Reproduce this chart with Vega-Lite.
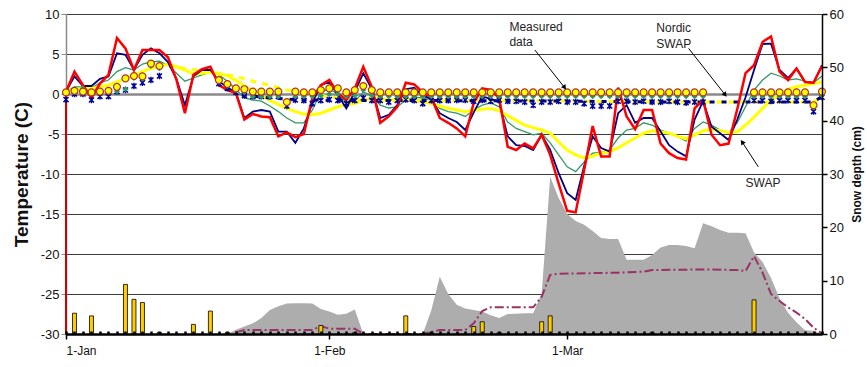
{
"$schema": "https://vega.github.io/schema/vega-lite/v6.json",
"width": 756, "height": 320,
"autosize": {"type": "none"},
"padding": {"left": 66, "top": 14, "right": 45, "bottom": 33},
"background": "white",
"config": {"font": "Liberation Sans", "view": {"stroke": null}, "mark": {"invalid": "filter"}, "scale": {"continuousPadding": 0}},
"datasets": {
"daily": [
{"day":0,"r":0.3,"b":0.3,"g":0.3,"y":0.3,"c":0.2,"m":0.2,"a":-0.7},
{"day":1,"r":2.8,"b":2.2,"g":0.9,"y":0.5,"c":0.4,"m":0.6,"a":0.0,"p":3.9},
{"day":2,"r":1.1,"b":1.0,"g":0.9,"y":0.7,"c":0.3,"m":0.7,"a":0.0},
{"day":3,"r":-0.5,"b":1.0,"g":0.75,"y":0.7,"c":0.2,"m":0.2,"a":-0.75,"p":3.4},
{"day":4,"r":1.3,"b":1.9,"g":1.4,"y":0.9,"c":0.3,"m":0.2,"a":-0.3},
{"day":5,"r":2.4,"b":2.2,"g":1.75,"y":1.1,"c":0.4,"m":0.2,"a":-0.3},
{"day":6,"r":7.0,"b":5.1,"g":2.8,"y":1.5,"c":0.9,"m":0.3,"a":0.3},
{"day":7,"r":5.7,"b":4.9,"g":3.3,"y":1.9,"c":1.95,"m":0.6,"a":0.5,"p":9.3},
{"day":8,"r":3.0,"b":3.0,"g":3.0,"y":2.4,"c":2.25,"m":2.0,"a":1.0,"p":6.5},
{"day":9,"r":5.5,"b":4.9,"g":3.75,"y":2.8,"c":2.2,"m":1.9,"a":1.4,"p":5.9},
{"day":10,"r":5.5,"b":5.7,"g":4.0,"y":3.2,"c":3.8,"m":3.5,"a":1.75},
{"day":11,"r":5.5,"b":5.1,"g":4.1,"y":3.5,"c":3.5,"m":3.2,"a":2.25,"p":0.3},
{"day":12,"r":4.6,"b":4.0,"g":3.6,"y":3.7,"ny":3.6},
{"day":13,"r":1.8,"b":1.9,"g":2.6,"y":3.4},
{"day":14,"r":-2.4,"b":-1.4,"g":1.6,"y":3.0,"ny":3.2},
{"day":15,"r":2.4,"b":2.2,"g":2.0,"y":2.5,"p":1.8},
{"day":16,"r":3.1,"b":3.0,"g":2.4,"y":2.6,"ny":2.9},
{"day":17,"r":3.4,"b":3.0,"g":2.7,"y":2.7,"p":4.3},
{"day":18,"r":1.1,"b":1.6,"g":2.4,"y":2.5,"c":1.75,"m":1.5,"a":1.3,"ny":2.6},
{"day":19,"r":0.5,"b":0.8,"g":1.6,"y":2.3,"c":1.25,"m":1.0,"a":0.7,"s":0,"p":0.3},
{"day":20,"r":0.1,"b":0.2,"g":0.6,"y":1.7,"c":0.7,"m":0.5,"a":0.2,"s":0.8,"ss":0.3,"ny":2.2,"nb":0.0},
{"day":21,"r":-3.2,"b":-3.0,"g":-0.5,"y":1.0,"c":0.6,"m":0.2,"a":-0.2,"s":1.4,"ss":0.75},
{"day":22,"r":-2.5,"b":-2.2,"g":-0.75,"y":0.4,"c":0.3,"m":-0.3,"a":-0.3,"s":2.0,"ss":0.75,"ny":1.6},
{"day":23,"r":-2.8,"b":-2.0,"g":-0.9,"y":-0.2,"c":0.3,"m":-0.3,"a":-0.3,"s":3.0,"ss":0.75},
{"day":24,"r":-2.9,"b":-2.2,"g":-1.5,"y":-0.8,"c":0.3,"m":-0.3,"a":-0.3,"s":4.5,"ss":0.75,"ny":1.1,"nb":-0.5},
{"day":25,"r":-5.3,"b":-4.7,"g":-2.2,"y":-1.3,"c":0.3,"m":-0.3,"a":-0.3,"s":5.2,"ss":0.75},
{"day":26,"r":-4.8,"b":-4.7,"g":-3.0,"y":-1.8,"c":-1.0,"m":-1.2,"a":-1.5,"s":5.7,"ss":0.75,"ny":0.5},
{"day":27,"r":-5.4,"b":-6.1,"g":-3.6,"y":-2.2,"c":0.3,"m":-0.3,"a":-0.75,"s":5.75,"ss":0.75},
{"day":28,"r":-5.0,"b":-4.3,"g":-3.6,"y":-2.5,"c":0.2,"m":-0.3,"a":-0.8,"s":5.75,"ss":0.75,"ny":0.1,"nb":-0.75},
{"day":29,"r":-0.5,"b":-1.1,"g":-2.0,"y":-2.6,"c":0.2,"m":-0.3,"a":-1.2,"s":5.7,"ss":0.75},
{"day":30,"r":1.1,"b":1.1,"g":0.25,"y":-2.4,"c":0.5,"m":-0.2,"a":-0.8,"s":4.7,"ss":1.5,"p":1.6,"ny":-0.2},
{"day":31,"r":1.75,"b":1.5,"g":0.6,"y":-2.0,"c":0.7,"m":0.0,"a":-0.7,"s":4.2,"ss":1.0},
{"day":32,"r":0.1,"b":-0.1,"g":0.0,"y":-1.6,"c":0.7,"m":0.0,"a":-0.8,"s":3.6,"ss":1.0,"ny":-0.5},
{"day":33,"r":-0.75,"b":-1.8,"g":-1.1,"y":-1.3,"c":0.2,"m":-0.3,"a":-1.2,"s":3.8,"ss":1.0},
{"day":34,"r":0.7,"b":0.3,"g":-0.9,"y":-1.2,"c":0.5,"m":-0.2,"a":-0.8,"s":4.6,"ss":1.0,"p":0.3,"ny":-0.7,"nb":-0.8},
{"day":35,"r":3.4,"b":2.6,"g":0.25,"y":-0.8,"c":1.0,"m":0.5,"a":-0.5,"s":0,"ss":0},
{"day":36,"r":0.9,"b":0.6,"g":-0.2,"y":-0.5,"c":0.5,"m":-0.2,"a":-0.8,"s":0,"ss":0},
{"day":37,"r":-3.6,"b":-3.0,"g":-1.4,"y":-0.6,"c":0.2,"m":-0.3,"a":-0.8,"s":0,"ss":0},
{"day":38,"r":-2.8,"b":-2.6,"g":-1.75,"y":-0.75,"c":0.2,"m":-0.3,"a":-1.0,"s":0,"ss":0},
{"day":39,"r":-1.6,"b":-1.4,"g":-1.6,"y":-0.75,"c":0.2,"m":-0.3,"a":-0.8,"s":0,"ss":0},
{"day":40,"r":1.4,"b":0.6,"g":-0.75,"y":-0.75,"c":0.2,"m":-0.3,"a":-0.7,"s":0,"ss":0,"p":3.4,"ny":-0.8,"nb":-0.8},
{"day":41,"r":1.2,"b":0.8,"g":-0.4,"y":-0.8,"c":0.2,"m":-0.3,"a":-0.8,"s":0,"ss":0},
{"day":42,"r":0.2,"b":-0.2,"g":-0.5,"y":-1.0,"c":0.2,"m":-0.3,"a":-1.2,"s":0,"ss":0},
{"day":43,"r":-0.4,"b":-0.6,"g":-0.75,"y":-1.2,"c":0.2,"m":-0.3,"a":-0.8,"s":4.4,"ss":0.4,"p":0.3},
{"day":44,"r":-3.0,"b":-2.4,"g":-1.8,"y":-1.5,"c":0.2,"m":-0.3,"a":-0.8,"s":10.75,"ss":0.75},
{"day":45,"r":-3.6,"b":-3.0,"g":-2.2,"y":-1.8,"c":0.2,"m":-0.3,"a":-0.8,"s":7.5,"ss":0.75},
{"day":46,"r":-4.3,"b":-3.5,"g":-2.4,"y":-2.0,"c":0.2,"m":-0.3,"a":-0.75,"s":5.5,"ss":0.75},
{"day":47,"r":-5.3,"b":-4.5,"g":-2.8,"y":-2.2,"c":0.2,"m":-0.3,"a":-0.75,"s":4.8,"ss":0.75},
{"day":48,"r":-1.1,"b":-2.3,"g":-2.0,"y":-2.0,"c":0.2,"m":-0.3,"a":-0.9,"s":4.5,"ss":2.0,"p":1.4},
{"day":49,"r":0.7,"b":-0.3,"g":-1.4,"y":-1.9,"c":0.2,"m":-0.3,"a":-0.75,"s":4.2,"ss":4.3,"p":2.3},
{"day":50,"r":0.5,"b":-0.6,"g":-1.1,"y":-1.8,"c":0.2,"m":-0.3,"a":-0.9,"s":3.5,"ss":5.0,"ny":-0.8},
{"day":51,"r":-0.5,"b":-1.0,"g":-1.6,"y":-2.1,"c":0.2,"m":-0.3,"a":-0.75,"s":3.0,"ss":5.0,"p":0.3},
{"day":52,"r":-6.6,"b":-5.3,"g":-3.5,"y":-2.7,"c":0.2,"m":-0.3,"a":-0.9,"s":3.75,"ss":5.0},
{"day":53,"r":-7.0,"b":-6.4,"g":-4.3,"y":-3.3,"c":0.2,"m":-0.3,"a":-0.9,"s":3.8,"ss":5.0},
{"day":54,"r":-6.2,"b":-6.5,"g":-4.7,"y":-3.9,"c":0.2,"m":-0.3,"a":-1.0,"s":3.9,"ss":5.0},
{"day":55,"r":-6.8,"b":-7.0,"g":-5.1,"y":-4.2,"c":0.2,"m":-0.3,"a":-1.4,"s":3.9,"ss":5.0},
{"day":56,"r":-5.1,"b":-5.1,"g":-4.9,"y":-4.5,"c":0.2,"m":-0.3,"a":-1.0,"s":7.6,"ss":7.0,"p":2.3},
{"day":57,"r":-7.6,"b":-7.0,"g":-6.1,"y":-4.9,"c":0.2,"m":-0.3,"a":-1.0,"s":29.5,"ss":11.1,"p":3.4},
{"day":58,"r":-11.2,"b":-9.9,"g":-7.6,"y":-6.0,"c":0.2,"m":-0.3,"a":-0.9,"s":25.5,"ss":11.3},
{"day":59,"r":-14.6,"b":-12.4,"g":-9.1,"y":-7.0,"c":0.2,"m":-0.3,"a":-1.0,"s":22.5},
{"day":60,"r":-14.8,"b":-13.25,"g":-9.7,"y":-7.6,"c":0.2,"m":-0.3,"a":-1.0,"s":21.2,"ny":-0.9,"nb":-0.9},
{"day":61,"r":-9.5,"b":-9.0,"g":-8.5,"y":-8.0,"c":0.2,"m":-0.3,"a":-1.2,"s":20.5},
{"day":62,"r":-4.0,"b":-5.3,"g":-7.4,"y":-7.75,"c":0.2,"m":-0.3,"a":-1.5,"s":19.3},
{"day":63,"r":-7.8,"b":-6.75,"g":-7.3,"y":-7.4,"c":0.2,"m":-0.3,"a":-1.5,"s":18.0},
{"day":64,"r":-7.8,"b":-7.2,"g":-7.0,"y":-7.2,"c":0.2,"m":-0.3,"a":-1.5,"s":17.8},
{"day":65,"r":0.8,"b":-2.4,"g":-5.5,"y":-6.75,"c":0.2,"m":-0.3,"a":-0.9,"s":17.8,"ss":11.5},
{"day":66,"r":-2.8,"b":-1.4,"g":-4.5,"y":-6.1,"c":0.2,"m":-0.3,"a":-0.9,"s":13.9},
{"day":67,"r":-4.4,"b":-3.6,"g":-4.3,"y":-5.5,"c":0.2,"m":-0.3,"a":-1.0,"s":13.9},
{"day":68,"r":-2.0,"b":-3.0,"g":-3.6,"y":-4.9,"c":0.2,"m":-0.3,"a":-0.9,"s":13.9,"ss":11.7},
{"day":69,"r":-2.0,"b":-3.0,"g":-3.9,"y":-4.6,"c":0.2,"m":-0.3,"a":-1.0,"s":14.8,"ss":12.0,"p":0.3},
{"day":70,"r":-6.2,"b":-4.7,"g":-4.5,"y":-4.75,"c":0.2,"m":-0.3,"a":-1.0,"s":16.2,"ny":-1.0,"nb":-1.0},
{"day":71,"r":-7.4,"b":-6.4,"g":-4.9,"y":-4.9,"c":0.2,"m":-0.3,"a":-0.9,"s":16.7},
{"day":72,"r":-8.0,"b":-7.2,"g":-5.3,"y":-5.3,"c":0.2,"m":-0.3,"a":-1.0,"s":16.7},
{"day":73,"r":-8.2,"b":-7.8,"g":-5.9,"y":-5.6,"c":0.2,"m":-0.3,"a":-1.1,"s":16.5},
{"day":74,"r":-1.8,"b":-3.2,"g":-4.3,"y":-5.1,"c":0.2,"m":-0.3,"a":-1.0,"s":16.1},
{"day":75,"r":-0.75,"b":-0.9,"g":-3.5,"y":-4.6,"c":0.2,"m":-0.3,"a":-1.0,"s":20.75,"ss":12.1},
{"day":76,"r":-5.1,"b":-4.1,"g":-3.9,"y":-4.4,"s":20.2},
{"day":77,"r":-6.4,"b":-4.9,"g":-4.5,"y":-4.6,"s":19.5},
{"day":78,"r":-6.2,"b":-5.75,"g":-4.9,"y":-4.8,"s":19.0},
{"day":79,"r":-2.0,"b":-3.25,"g":-3.6,"y":-4.75,"s":19.0,"ss":12.0},
{"day":80,"r":2.6,"b":-0.4,"g":-1.6,"y":-3.9,"s":18.9,"ss":11.8,"ny":-1.0,"nb":-1.0},
{"day":81,"r":3.6,"b":3.0,"g":0.5,"y":-2.9,"c":0.2,"m":-0.3,"a":-0.8,"s":15.3,"ss":14.6,"p":6.4},
{"day":82,"r":6.5,"b":6.25,"g":1.75,"y":-1.8,"c":0.2,"m":-0.3,"a":-0.8,"s":13.5,"ss":11.5},
{"day":83,"r":7.2,"b":6.3,"g":2.6,"y":-0.8,"c":0.2,"m":-0.3,"a":-0.9,"s":10.5,"ss":7.5},
{"day":84,"r":2.8,"b":3.0,"g":2.25,"y":0.0,"c":0.2,"m":-0.3,"a":-0.8,"s":6.7,"ss":6.2},
{"day":85,"r":1.75,"b":2.0,"g":1.75,"y":0.6,"c":0.2,"m":-0.3,"a":-0.8,"s":4.0,"ss":5.0},
{"day":86,"r":3.2,"b":3.2,"g":1.9,"y":0.9,"c":0.2,"m":-0.3,"a":-0.8,"s":2.2,"ss":4.0},
{"day":87,"r":1.5,"b":1.5,"g":1.6,"y":1.1,"c":0.2,"m":-0.3,"a":-0.8,"s":0.7,"ss":2.8,"ny":-1.0,"nb":-1.0},
{"day":88,"r":1.4,"b":1.4,"g":1.4,"y":1.3,"c":-1.4,"m":-1.7,"a":-2.2,"s":0.6,"ss":1.2,"ny":-1.0,"nb":-1.0},
{"day":89,"r":3.5,"b":3.6,"g":2.25,"y":1.5,"c":0.3,"m":-0.2,"a":-0.4,"s":0,"ss":0.1,"ny":-0.3,"nb":-0.3}
],
"notes": [
{"day":52.2,"t":8.4,"text":"Measured"},
{"day":52.2,"t":6.5,"text":"data"},
{"day":69.5,"t":8.3,"text":"Nordic"},
{"day":69.5,"t":6.2,"text":"SWAP"},
{"day":80.0,"t":-11.1,"text":"SWAP"}
],
"arrows": [
{"name":"m","day":55.2,"t":5.5,"day2":58.7,"t2":0.8},
{"name":"n","day":73.3,"t":5.7,"day2":77.6,"t2":-0.1},
{"name":"s","day":81.5,"t":-9.1,"day2":79.6,"t2":-6.0}
],
"redstart": [
{"day":0,"t":-30,"t2":0.3}
]
},
"layer": [
{
"data": {"name": "daily"},
"encoding": {
  "x": {"field": "day", "type": "quantitative", "scale": {"domain": [0, 89], "nice": false, "zero": false, "padding": 0},
        "axis": {"orient": "bottom", "values": [0,1,2,3,4,5,6,7,8,9,10,11,12,13,14,15,16,17,18,19,20,21,22,23,24,25,26,27,28,29,30,31,32,33,34,35,36,37,38,39,40,41,42,43,44,45,46,47,48,49,50,51,52,53,54,55,56,57,58,59,60,61,62,63,64,65,66,67,68,69,70,71,72,73,74,75,76,77,78,79,80,81,82,83,84,85,86,87,88,89],
                 "tickCount": 200, "labels": false, "tickSize": -3, "tickWidth": 2.5, "tickColor": "black", "domainColor": "black", "domainWidth": 2.5, "grid": false, "title": null, "zindex": 2}}
},
"layer": [
{"mark": {"type": "area", "color": "#adadad", "interpolate": "linear"},
 "encoding": {
  "y": {"field": "s", "type": "quantitative", "scale": {"domain": [0, 60], "nice": false},
        "axis": {"orient": "right", "values": [0,10,20,30,40,50,60], "tickCount": 20, "grid": false, "domainColor": "black", "domainWidth": 1.5, "tickColor": "black", "tickWidth": 1.5, "tickSize": 5, "labelFontSize": 13, "labelColor": "#111", "labelPadding": 2,
                 "title": "Snow depth (cm)", "titleFontSize": 12, "titleFontWeight": "bold", "titleColor": "#111", "titleAngle": 270, "titlePadding": 20, "zindex": 2}}
 }},
{"mark": {"type": "line", "color": "#993366", "strokeWidth": 2, "strokeDash": [9, 3, 2, 3]},
 "encoding": {
  "y": {"field": "ss", "type": "quantitative", "scale": {"domain": [0, 60], "nice": false}}
 }},
{"mark": {"type": "bar", "width": 4, "color": "#FFCC00", "stroke": "black", "strokeWidth": 0.8},
 "encoding": {
  "y": {"field": "p", "type": "quantitative", "scale": {"domain": [0, 60], "nice": false}}
 }}
]
},
{
"data": {"name": "daily"},
"encoding": {
  "x": {"field": "day", "type": "quantitative", "scale": {"domain": [0, 89], "nice": false, "zero": false, "padding": 0},
        "axis": {"orient": "bottom", "values": [0, 31, 59], "tickCount": 20, "labelExpr": "datum.value == 0 ? '1-Jan' : datum.value == 31 ? '1-Feb' : '1-Mar'",
                 "tickSize": 5, "tickWidth": 1.5, "tickColor": "black", "domain": false, "grid": false, "title": null, "labelFontSize": 12, "labelColor": "#111", "labelPadding": 6, "zindex": 2}}
},
"layer": [
{"mark": {"type": "line", "color": "#339966", "strokeWidth": 1.3},
 "encoding": {
  "y": {"field": "g", "type": "quantitative", "scale": {"domain": [-30, 10], "nice": false},
        "axis": {"orient": "left", "values": [-30,-25,-20,-15,-10,-5,0,5,10], "tickCount": 20, "grid": true, "labelExpr": "'' + datum.value",
                 "gridColor": {"condition": {"test": "datum.value === 0", "value": "#8a8a8a"}, "value": "#3c3c3c"},
                 "gridWidth": {"condition": {"test": "datum.value === 0", "value": 2.5}, "value": 1},
                 "domainColor": "#8a8a8a", "domainWidth": 1.5, "tickColor": "#8a8a8a", "tickSize": 5, "labelFontSize": 13, "labelColor": "#111", "labelPadding": 2, "labelOverlap": false,
                 "title": "Temperature (C)", "titleFontSize": 19, "titleFontWeight": "bold", "titleColor": "#111", "titlePadding": 9}}
 }},
{"data": {"name": "redstart"},
 "mark": {"type": "rule", "color": "#D00000", "strokeWidth": 2},
 "encoding": {
  "y": {"field": "t", "type": "quantitative", "scale": {"domain": [-30, 10], "nice": false}},
  "y2": {"field": "t2"}
 }},
{"mark": {"type": "line", "color": "#FFFF00", "strokeWidth": 3},
 "encoding": {"y": {"field": "y", "type": "quantitative", "scale": {"domain": [-30, 10], "nice": false}}}},
{"mark": {"type": "line", "color": "#FFFF00", "strokeWidth": 3, "strokeDash": [6, 6]},
 "encoding": {"y": {"field": "ny", "type": "quantitative", "scale": {"domain": [-30, 10], "nice": false}}}},
{"mark": {"type": "line", "color": "#000080", "strokeWidth": 3, "strokeDash": [5, 7], "strokeDashOffset": -6},
 "encoding": {"y": {"field": "nb", "type": "quantitative", "scale": {"domain": [-30, 10], "nice": false}}}},
{"mark": {"type": "line", "color": "#000080", "strokeWidth": 1.8},
 "encoding": {"y": {"field": "b", "type": "quantitative", "scale": {"domain": [-30, 10], "nice": false}}}},
{"mark": {"type": "line", "color": "#FF0000", "strokeWidth": 2.5},
 "encoding": {"y": {"field": "r", "type": "quantitative", "scale": {"domain": [-30, 10], "nice": false}}}},
{"mark": {"type": "point", "shape": "M0,-1L0,1M-0.8,-0.8L0.8,0.8M-0.8,0.8L0.8,-0.8", "filled": false, "color": "#000099", "strokeWidth": 1.5, "size": 40, "opacity": 1},
 "encoding": {"y": {"field": "a", "type": "quantitative", "scale": {"domain": [-30, 10], "nice": false}}}},
{"mark": {"type": "point", "shape": "diamond", "filled": true, "color": "#339966", "size": 35, "opacity": 1},
 "encoding": {"y": {"field": "m", "type": "quantitative", "scale": {"domain": [-30, 10], "nice": false}}}},
{"mark": {"type": "point", "shape": "circle", "filled": true, "fill": "#FFFF00", "stroke": "#B03020", "strokeWidth": 1.2, "size": 48, "opacity": 1},
 "encoding": {"y": {"field": "c", "type": "quantitative", "scale": {"domain": [-30, 10], "nice": false}}}},
{"data": {"name": "notes"},
 "mark": {"type": "text", "align": "left", "baseline": "middle", "fontSize": 12, "color": "#222"},
 "encoding": {
  "y": {"field": "t", "type": "quantitative", "scale": {"domain": [-30, 10], "nice": false}},
  "text": {"field": "text"}
 }},
{"data": {"name": "arrows"},
 "mark": {"type": "rule", "color": "black", "strokeWidth": 1},
 "encoding": {
  "y": {"field": "t", "type": "quantitative", "scale": {"domain": [-30, 10], "nice": false}},
  "x2": {"field": "day2"},
  "y2": {"field": "t2"}
 }},
{"data": {"name": "arrows"},
 "transform": [{"filter": "datum.name == 'm'"}],
 "mark": {"type": "point", "shape": "triangle-up", "filled": true, "color": "black", "size": 30, "angle": 143, "opacity": 1},
 "encoding": {
  "x": {"field": "day2", "type": "quantitative", "scale": {"domain": [0, 89], "nice": false, "zero": false, "padding": 0}},
  "y": {"field": "t2", "type": "quantitative", "scale": {"domain": [-30, 10], "nice": false}}
 }},
{"data": {"name": "arrows"},
 "transform": [{"filter": "datum.name == 'n'"}],
 "mark": {"type": "point", "shape": "triangle-up", "filled": true, "color": "black", "size": 30, "angle": 142, "opacity": 1},
 "encoding": {
  "x": {"field": "day2", "type": "quantitative", "scale": {"domain": [0, 89], "nice": false, "zero": false, "padding": 0}},
  "y": {"field": "t2", "type": "quantitative", "scale": {"domain": [-30, 10], "nice": false}}
 }},
{"data": {"name": "arrows"},
 "transform": [{"filter": "datum.name == 's'"}],
 "mark": {"type": "point", "shape": "triangle-up", "filled": true, "color": "black", "size": 30, "angle": 326, "opacity": 1},
 "encoding": {
  "x": {"field": "day2", "type": "quantitative", "scale": {"domain": [0, 89], "nice": false, "zero": false, "padding": 0}},
  "y": {"field": "t2", "type": "quantitative", "scale": {"domain": [-30, 10], "nice": false}}
 }}
]
}
],
"resolve": {"scale": {"y": "independent"}, "axis": {"x": "independent"}}
}
